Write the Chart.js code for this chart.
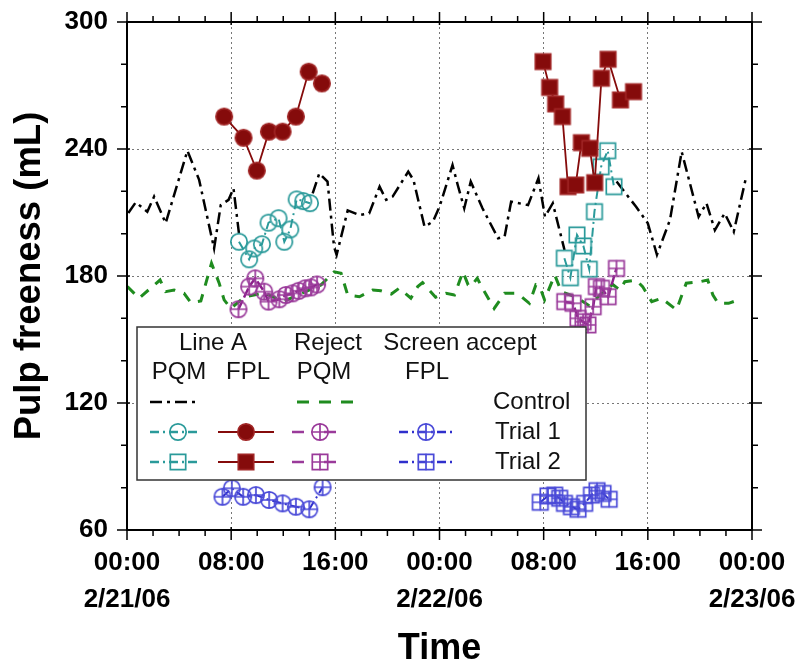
<!DOCTYPE html>
<html lang="en">
<head>
<meta charset="UTF-8">
<title>Pulp freeness</title>
<style>
  body { margin: 0; background: #fff; }
  .chart-box { width: 803px; height: 671px; }
</style>
</head>
<body>
<div class="chart-box"><canvas id="freenessChart"></canvas></div>
<script src="https://cdn.jsdelivr.net/npm/chart.js"></script>
<script>
  // x values are hours after 00:00 on 2/21/06
  const xTickHours = [0, 8, 16, 24, 32, 40, 48];
  const xTickTimes = ['00:00', '08:00', '16:00', '00:00', '08:00', '16:00', '00:00'];
  const xTickDates = ['2/21/06', '', '', '2/22/06', '', '', '2/23/06'];

  // Line A PQM, control (null = no data while trial ran)
  const lineAControlHours = [0.1, 0.67, 1.56, 2.08, 2.97, 4.64, 5.54, 6.69, 7.2, 7.8, 8.18, 8.6, 11,
    14.26, 14.77, 15.4, 15.9, 16.1, 16.95, 17.85, 18.6, 19.4, 19.9, 20.4, 21.6, 22, 22.85, 23.5, 24,
    25, 25.4, 25.9, 26.4, 27.3, 28.5, 29, 29.5, 30.8, 31.6, 32.1, 32.7, 33.6, 35.5,
    37.6, 38.2, 39.1, 40.0, 40.7, 41.7, 42.6, 43.9, 44.5, 45.15, 45.9, 46.6, 47.5];
  const lineAControlValues = [209.8, 214.8, 210.4, 217.5, 205, 239.2, 225.4, 193, 213.5, 216, 221.4, 200, null,
    219, 228.5, 224.6, 193.8, 190, 211, 208.8, 209.6, 222.2, 216, 217.5, 229.3, 225.4, 203.3, 205.7, 212.7,
    232.4, 223, 212, 224.6, 212, 197.8, 198.6, 215.1, 213.5, 226.2, 208, 214.4, 192.3, null,
    224.6, 219.8, 212.7, 204.9, 190, 206.5, 238.7, 208, 214.4, 201.7, 209.6, 200.9, 225.4];

  // Reject PQM, control
  const rejectControlHours = [0.03, 0.92, 2.54, 2.97, 3.62, 4.38, 4.9, 5.67, 6.49, 7.08, 7.46, 7.97,
    9, 10.5, 12, 13.5, 14.9, 15.92, 16.44, 16.95, 17.85, 18.87, 19.5, 20.3, 20.9, 21.8, 22.33, 22.7,
    23.2, 23.7, 24.5, 25.15, 25.8, 26.2, 26.4, 26.9, 27.3, 28.2, 29, 29.77, 30.3, 30.9, 31.4, 31.7,
    32.07, 32.85, 33.36, 34.5, 35.5, 36.5, 37.3, 37.85, 38.23, 39.1, 39.6, 40.3, 41.05, 42.2, 42.95,
    44, 44.6, 45, 45.4, 46.2, 46.95];
  const rejectControlValues = [175, 169.5, 178.1, 172.6, 173.4, 171.8, 167.4, 168.2, 186, 176.6, 168.7, 164.7,
    170, 172, 168, 172, 175.8, 182, 181.3, 171, 170.2, 173.4, 173, 171.5, 174.2, 169.5, 175, 176.9,
    173.4, 170, 171.8, 171, 182, 175.8, 175, 178.9, 174.2, 164.7, 171.8, 171.8, 170.2, 167.1, 175.8, 175,
    168.7, 180.5, 172.6, 170, 166, 172, 176, 173.4, 177.3, 178, 175, 167.9, 169.5, 164, 176.6,
    177.3, 178.1, 171, 167.1, 167.1, 168.7];

  // Line A PQM, trials
  const lineAPqmT1Hours = [8.6, 9.38, 9.77, 10.36, 10.87, 11.64, 12.08, 12.54, 13.03, 13.54, 14.05];
  const lineAPqmT1Values = [196.2, 187.9, 193, 195, 205.2, 207.3, 196.2, 202, 216.2, 215.4, 214.4];
  const lineAPqmT2Hours = [33.59, 34.05, 34.56, 35.05, 35.5, 35.9, 36.41, 36.92, 37.4];
  const lineAPqmT2Values = [188.4, 179.2, 199.4, 194.2, 183.2, 210.4, 231.6, 239.2, 222.2];

  // Line A FPL, trials
  const lineAFplT1Hours = [7.46, 8.95, 9.97, 10.9, 11.95, 12.97, 13.95, 14.97];
  const lineAFplT1Values = [255.3, 245.3, 229.8, 248.2, 248.2, 255.3, 276.5, 271];
  const lineAFplT2Hours = [31.95, 32.46, 32.92, 33.44, 33.87, 34.46, 34.9, 35.54, 35.92, 36.44, 36.95, 37.9, 38.9];
  const lineAFplT2Values = [281.3, 269.1, 261.3, 255.3, 222.2, 223, 243, 240.3, 224.1, 273.4, 282.4, 263.2, 267.1];

  // Reject PQM, trials
  const rejectT1Hours = [8.56, 9.38, 9.85, 10.54, 10.87, 11.7, 12.2, 12.72, 13.18, 13.7, 14.13, 14.6];
  const rejectT1Values = [164.3, 175, 178.9, 172.6, 167.9, 169, 171, 171.8, 173, 174.2, 174.6, 176];
  const rejectT2Hours = [33.62, 34.26, 34.64, 35.03, 35.4, 35.8, 36.05, 36.44, 36.95, 37.59];
  const rejectT2Values = [167.9, 167.1, 160, 158.4, 156.9, 165.5, 175, 174.2, 170.2, 183.6];

  // Screen accept FPL, trials
  const screenT1Hours = [7.33, 8.05, 8.92, 9.9, 10.92, 11.95, 12.97, 14, 15.02];
  const screenT1Values = [75.7, 79.7, 75.7, 76.5, 74.2, 72.6, 71, 69.8, 80.2];
  const screenT2Hours = [31.74, 32.33, 32.85, 33.23, 33.6, 34.13, 34.64, 35.15, 35.67, 36.1, 36.56, 37.03];
  const screenT2Values = [73.1, 76.1, 76.5, 75, 72.6, 71, 69.8, 72.6, 76.5, 78.6, 77.3, 74.5];

  const pts = (hs, vs) => hs.map((h, i) => ({ x: h, y: vs[i] }));

  const TEAL = '#2a9a9a', RED = '#850b0b', PURPLE = '#9a3a9a', BLUE = '#2f2fcc', GREEN = '#1f8c1f';
  const DASHDOT = [9, 4, 2, 4];

  function makeMarker(shape, color, fill, plus) {
    const s = 22, m = 11, r = 8.2;
    const c = document.createElement('canvas');
    c.width = s; c.height = s;
    const g = c.getContext('2d');
    g.strokeStyle = color;
    g.lineWidth = 1.7;
    g.beginPath();
    if (shape === 'circle') g.arc(m, m, r, 0, Math.PI * 2);
    else g.rect(m - 7.7, m - 7.7, 15.4, 15.4);
    if (fill) { g.fillStyle = fill; g.fill(); }
    g.stroke();
    if (plus) {
      g.beginPath();
      g.moveTo(m - r, m); g.lineTo(m + r, m);
      g.moveTo(m, m - r); g.lineTo(m, m + r);
      g.stroke();
    }
    return c;
  }

  const mk = {
    tealCircle: makeMarker('circle', TEAL),
    tealSquare: makeMarker('rect', TEAL),
    redCircle: makeMarker('circle', '#a02525', RED),
    redSquare: makeMarker('rect', '#a02525', RED),
    purpleCircle: makeMarker('circle', PURPLE, null, true),
    purpleSquare: makeMarker('rect', PURPLE, null, true),
    blueCircle: makeMarker('circle', '#4a4ad8', null, true),
    blueSquare: makeMarker('rect', '#4a4ad8', null, true)
  };

  function series(data, color, dash, width, marker) {
    return {
      data: data,
      borderColor: color,
      borderWidth: width,
      borderDash: dash,
      pointStyle: marker || 'circle',
      pointRadius: marker ? 8 : 0,
      fill: false,
      tension: 0,
      spanGaps: false
    };
  }

  // legend drawn into the plot, like the original figure
  const boxLegend = {
    id: 'boxLegend',
    afterDatasetsDraw(chart) {
      const ctx = chart.ctx;
      ctx.save();
      ctx.fillStyle = '#fff';
      ctx.strokeStyle = '#333';
      ctx.lineWidth = 1.5;
      ctx.fillRect(137, 327, 449, 153);
      ctx.strokeRect(137, 327, 449, 153);

      ctx.fillStyle = '#111';
      ctx.font = '24px "Liberation Sans", Arial, sans-serif';
      ctx.textAlign = 'center';
      ctx.textBaseline = 'middle';
      ctx.fillText('Line A', 213, 343);
      ctx.fillText('Reject', 328, 343);
      ctx.fillText('Screen accept', 460, 343);
      ctx.fillText('PQM', 179, 372);
      ctx.fillText('FPL', 248, 372);
      ctx.fillText('PQM', 324, 372);
      ctx.fillText('FPL', 427, 372);
      ctx.textAlign = 'left';
      ctx.fillText('Control', 493, 402);
      ctx.fillText('Trial 1', 495, 432);
      ctx.fillText('Trial 2', 495, 462);

      const sample = (x1, x2, yy, color, dash, w, marker, mx) => {
        ctx.beginPath();
        ctx.strokeStyle = color;
        ctx.lineWidth = w;
        ctx.setLineDash(dash);
        ctx.moveTo(x1, yy); ctx.lineTo(x2, yy);
        ctx.stroke();
        ctx.setLineDash([]);
        if (marker) ctx.drawImage(marker, mx - 11, yy - 11);
      };
      sample(150, 200, 402, '#000', [12, 5, 3, 5], 2.5);
      sample(297, 353, 402, GREEN, [12, 10], 3);
      sample(150, 200, 432, TEAL, DASHDOT, 2.5, mk.tealCircle, 178);
      sample(150, 200, 462, TEAL, DASHDOT, 2.5, mk.tealSquare, 178);
      sample(218, 274, 432, RED, [], 2, mk.redCircle, 246);
      sample(218, 274, 462, RED, [], 2, mk.redSquare, 246);
      sample(292, 348, 432, PURPLE, [12, 20], 2.5, mk.purpleCircle, 320);
      sample(292, 348, 462, PURPLE, [12, 20], 2.5, mk.purpleSquare, 320);
      sample(399, 452, 432, BLUE, DASHDOT, 2.5, mk.blueCircle, 426);
      sample(399, 452, 462, BLUE, DASHDOT, 2.5, mk.blueSquare, 426);
      ctx.restore();
    }
  };

  // frame with outward ticks on all four sides
  const frameTicks = {
    id: 'frameTicks',
    afterDraw(chart) {
      const { ctx, chartArea: a, scales: { x, y } } = chart;
      ctx.save();
      ctx.strokeStyle = '#000';
      ctx.lineWidth = 2;
      ctx.strokeRect(a.left, a.top, a.right - a.left, a.bottom - a.top);
      ctx.lineWidth = 1.5;
      ctx.beginPath();
      for (let h = 0; h <= 48; h += 2) {
        const px = x.getPixelForValue(h);
        const major = h % 8 === 0;
        const out = major ? 10 : 6, inn = major ? 3 : 0;
        ctx.moveTo(px, a.bottom - inn); ctx.lineTo(px, a.bottom + out);
        ctx.moveTo(px, a.top + inn); ctx.lineTo(px, a.top - out);
      }
      for (let v = 60; v <= 300; v += 20) {
        const py = y.getPixelForValue(v);
        const major = v % 60 === 0;
        const out = major ? 10 : 6, inn = major ? 3 : 0;
        ctx.moveTo(a.left + inn, py); ctx.lineTo(a.left - out, py);
        ctx.moveTo(a.right - inn, py); ctx.lineTo(a.right + out, py);
      }
      ctx.stroke();
      ctx.restore();
    }
  };

  Chart.defaults.font.family = '"Liberation Sans", Arial, sans-serif';
  Chart.defaults.color = '#000';

  const freenessChart = new Chart(
    document.getElementById('freenessChart'),
    {
      type: 'line',
      data: {
        datasets: [
          series(pts(screenT1Hours, screenT1Values), BLUE, DASHDOT, 2, mk.blueCircle),
          series(pts(screenT2Hours, screenT2Values), BLUE, DASHDOT, 2, mk.blueSquare),
          series(pts(rejectT1Hours, rejectT1Values), '#8a1f8a', [10, 3], 2.5, mk.purpleCircle),
          series(pts(rejectT2Hours, rejectT2Values), '#8a1f8a', [10, 3], 2.5, mk.purpleSquare),
          series(pts(lineAFplT1Hours, lineAFplT1Values), RED, [], 1.8, mk.redCircle),
          series(pts(lineAFplT2Hours, lineAFplT2Values), RED, [], 1.8, mk.redSquare),
          series(pts(lineAPqmT1Hours, lineAPqmT1Values), TEAL, DASHDOT, 2, mk.tealCircle),
          series(pts(lineAPqmT2Hours, lineAPqmT2Values), TEAL, DASHDOT, 2, mk.tealSquare),
          series(pts(rejectControlHours, rejectControlValues), GREEN, [10, 9], 3),
          series(pts(lineAControlHours, lineAControlValues), '#000', [12, 5, 3, 5], 2.5)
        ]
      },
      options: {
        responsive: true,
        maintainAspectRatio: false,
        animation: false,
        layout: { padding: { top: 22, right: 51, left: 0, bottom: 0 } },
        plugins: {
          legend: { display: false },
          tooltip: { enabled: false }
        },
        scales: {
          x: {
            type: 'linear',
            min: 0,
            max: 48,
            afterBuildTicks: s => { s.ticks = xTickHours.map(v => ({ value: v })); },
            afterFit: s => { s.height = 141; s.paddingLeft = 0; s.paddingRight = 0; },
            ticks: {
              padding: 14,
              maxRotation: 0,
              autoSkip: false,
              font: { size: 26, weight: 'bold', lineHeight: 1.42 },
              callback: v => {
                const i = xTickHours.indexOf(v);
                return xTickDates[i] ? [xTickTimes[i], xTickDates[i]] : xTickTimes[i];
              }
            },
            grid: {
              drawTicks: false,
              lineWidth: 1,
              color: c => (c.tick && (c.tick.value === 0 || c.tick.value === 48)) ? 'rgba(0,0,0,0)' : '#777'
            },
            border: { display: false, dash: [2, 3] },
            title: {
              display: true,
              text: 'Time',
              font: { size: 36, weight: 'bold' },
              padding: { top: 0, bottom: 0 }
            }
          },
          y: {
            min: 60,
            max: 300,
            afterFit: s => { s.width = 127; s.paddingTop = 0; s.paddingBottom = 0; },
            ticks: {
              stepSize: 60,
              padding: 19,
              font: { size: 26, weight: 'bold' }
            },
            grid: {
              drawTicks: false,
              lineWidth: 1,
              color: c => (c.tick && (c.tick.value === 60 || c.tick.value === 300)) ? 'rgba(0,0,0,0)' : '#777'
            },
            border: { display: false, dash: [2, 3] },
            title: {
              display: true,
              text: 'Pulp freeness (mL)',
              font: { size: 36.5, weight: 'bold' },
              padding: { top: 8, bottom: 0 }
            }
          }
        }
      },
      plugins: [boxLegend, frameTicks]
    }
  );
</script>
</body>
</html>
